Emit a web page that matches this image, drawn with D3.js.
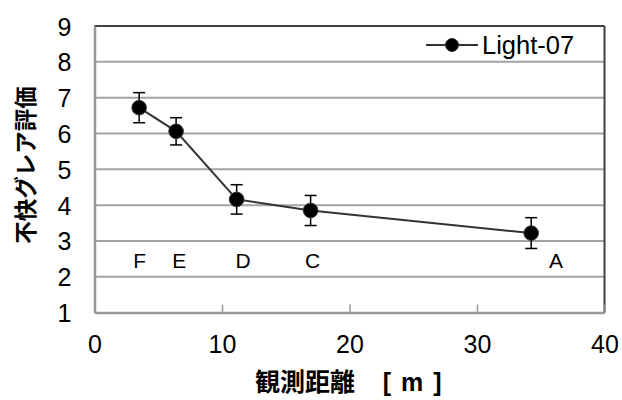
<!DOCTYPE html>
<html>
<head>
<meta charset="utf-8">
<script src="https://cdn.jsdelivr.net/npm/d3@7"></script>
<style>
  html, body { margin: 0; padding: 0; background: #fff; }
  svg { display: block; }
  text { font-family: "Liberation Sans", Arial, sans-serif; fill: #000; }
  .cjk { font-family: "Noto Sans CJK JP", "Liberation Sans", sans-serif; font-weight: bold; }
</style>
</head>
<body>
<svg id="chart" width="622" height="400"></svg>
<script>
// Viewing distance [m] and glare rating for Light-07
const seriesName = "Light-07";
const distance = [3.5, 6.4, 11.15, 16.95, 34.25];
const rating = [6.72, 6.06, 4.16, 3.85, 3.22];
const ratingErr = [0.42, 0.38, 0.41, 0.42, 0.43];

// Position letters written under the curve
const posNames = ["F", "E", "D", "C", "A"];
const posX = [3.55, 6.65, 11.65, 17.1, 36.2];
const posY = [2.45, 2.45, 2.45, 2.45, 2.45];

const xTicks = [0, 10, 20, 30, 40];
const yTicks = [1, 2, 3, 4, 5, 6, 7, 8, 9];

const svg = d3.select("#chart");
const plotL = 94.5, plotR = 604.5, plotT = 26, plotB = 312.6;

const x = d3.scaleLinear().domain([0, 40]).range([plotL, plotR]);
const y = d3.scaleLinear().domain([1, 9]).range([plotB, plotT]);

// horizontal gridlines
svg.append("g").selectAll("line")
  .data(yTicks.filter(v => v > 1 && v < 9))
  .join("line")
  .attr("x1", plotL).attr("x2", plotR)
  .attr("y1", d => y(d)).attr("y2", d => y(d))
  .attr("stroke", "#a3a3a3").attr("stroke-width", 2);

// plot frame: dark top/right, gray axes left/bottom
svg.append("line").attr("x1", plotL).attr("x2", plotR).attr("y1", plotT).attr("y2", plotT)
  .attr("stroke", "#404040").attr("stroke-width", 2);
svg.append("line").attr("x1", plotR).attr("x2", plotR).attr("y1", plotT).attr("y2", plotB)
  .attr("stroke", "#404040").attr("stroke-width", 2);

// x axis with inward ticks
const xAxis = svg.append("g").attr("transform", `translate(0,${plotB})`)
  .call(d3.axisBottom(x).tickValues(xTicks).tickSizeInner(-8).tickSizeOuter(0).tickFormat(d3.format("d")));
xAxis.select(".domain").attr("stroke", "#999").attr("stroke-width", 2.5);
xAxis.selectAll(".tick line").attr("stroke", "#999").attr("stroke-width", 1.5);
xAxis.selectAll(".tick text")
  .attr("y", 40).attr("dy", 0)
  .style("font-size", "25px").style("font-family", "'Liberation Sans', Arial, sans-serif")
  .attr("fill", "#000");

// y axis
const yAxis = svg.append("g").attr("transform", `translate(${plotL},0)`)
  .call(d3.axisLeft(y).tickValues(yTicks).tickSize(0).tickPadding(23).tickFormat(d3.format("d")));
yAxis.select(".domain").attr("stroke", "#999").attr("stroke-width", 2.5);
yAxis.selectAll(".tick text")
  .attr("dy", "0.36em")
  .style("font-size", "25px").style("font-family", "'Liberation Sans', Arial, sans-serif")
  .attr("fill", "#000");

// axis titles
svg.append("text").attr("class", "cjk")
  .attr("transform", "translate(34,165) rotate(-90)")
  .attr("text-anchor", "middle")
  .style("font-size", "22.5px")
  .text("不快グレア評価");

svg.append("text").attr("class", "cjk")
  .attr("x", 255).attr("y", 391)
  .style("font-size", "25px")
  .text("観測距離");
svg.append("text")
  .attr("x", 443).attr("y", 391)
  .attr("text-anchor", "end")
  .style("font-size", "25px").style("font-weight", "bold")
  .style("letter-spacing", "1.5px")
  .text("[ m ]");

const pts = distance.map((d, i) => ({ x: d, y: rating[i], e: ratingErr[i] }));

// error bars
const eb = svg.append("g").selectAll("g").data(pts).join("g");
eb.append("line")
  .attr("x1", d => x(d.x)).attr("x2", d => x(d.x))
  .attr("y1", d => y(d.y + d.e)).attr("y2", d => y(d.y - d.e))
  .attr("stroke", "#000").attr("stroke-width", 1.5);
eb.append("line")
  .attr("x1", d => x(d.x) - 6).attr("x2", d => x(d.x) + 6)
  .attr("y1", d => y(d.y + d.e)).attr("y2", d => y(d.y + d.e))
  .attr("stroke", "#000").attr("stroke-width", 1.5);
eb.append("line")
  .attr("x1", d => x(d.x) - 6).attr("x2", d => x(d.x) + 6)
  .attr("y1", d => y(d.y - d.e)).attr("y2", d => y(d.y - d.e))
  .attr("stroke", "#000").attr("stroke-width", 1.5);

// connecting line
svg.append("path").datum(pts)
  .attr("d", d3.line().x(d => x(d.x)).y(d => y(d.y)))
  .attr("fill", "none").attr("stroke", "#333").attr("stroke-width", 2);

// markers
svg.append("g").selectAll("circle").data(pts).join("circle")
  .attr("cx", d => x(d.x)).attr("cy", d => y(d.y)).attr("r", 7.3)
  .attr("fill", "#000").attr("stroke", "#333").attr("stroke-width", 1);

// position letters
svg.append("g").selectAll("text").data(posNames).join("text")
  .attr("x", (d, i) => x(posX[i])).attr("y", (d, i) => y(posY[i]))
  .attr("text-anchor", "middle").attr("dy", "0.36em")
  .style("font-size", "21px")
  .text(d => d);

// legend
const ly = 45;
svg.append("line").attr("x1", 426).attr("x2", 478).attr("y1", ly).attr("y2", ly)
  .attr("stroke", "#333").attr("stroke-width", 2);
svg.append("circle").attr("cx", 452).attr("cy", ly).attr("r", 6.5)
  .attr("fill", "#000").attr("stroke", "#333").attr("stroke-width", 1);
svg.append("text").attr("x", 482).attr("y", ly).attr("dy", "0.36em")
  .style("font-size", "25.5px")
  .text(seriesName);
</script>
</body>
</html>
